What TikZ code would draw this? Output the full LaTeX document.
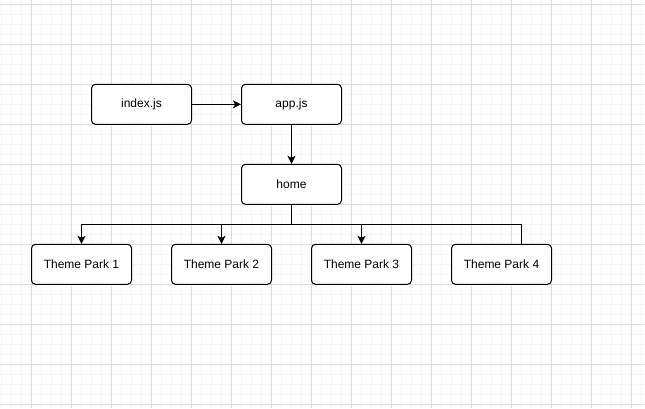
\documentclass[tikz,border=0pt]{standalone}
\usepackage{fontspec}
\setmainfont{Liberation Sans}
\usetikzlibrary{arrows.meta}
\definecolor{gridminor}{HTML}{F5F5F5}
\definecolor{gridmajor}{HTML}{DCDCDC}
\tikzset{
  box/.style={draw=black, line width=1pt, rounded corners=4pt, minimum width=100pt, minimum height=40pt, inner sep=0pt, font=\fontsize{12}{14}\selectfont, fill=white},
  conn/.style={draw=black, line width=1pt},
  arr/.style={conn, -{Stealth[length=8pt,width=8pt,inset=2pt]}},
}
\begin{document}
\begin{tikzpicture}[x=1pt,y=-1pt]
\useasboundingbox (0,0) rectangle (645,408);
\fill[white] (0,0) rectangle (645,408);
% minor grid
\foreach \i in {0,...,64} {\draw[gridminor, line width=1pt] ({1.5+10*\i},0) -- ({1.5+10*\i},408);}
\foreach \j in {0,...,40} {\draw[gridminor, line width=1pt] (0,{4.3+10*\j}) -- (645,{4.3+10*\j});}
% major grid
\foreach \i in {-1,...,16} {\draw[gridmajor, line width=1pt] ({31.5+40*\i},0) -- ({31.5+40*\i},408);}
\foreach \j in {0,...,10} {\draw[gridmajor, line width=1pt] (0,{4.3+40*\j}) -- (645,{4.3+40*\j});}

\node[box] (index) at (141.5,104.3) {index.js};
\node[box] (app) at (291.5,104.3) {app.js};
\node[box] (home) at (291.5,184.3) {home};
\node[box] (tp1) at (81.5,264.3) {Theme Park 1};
\node[box] (tp2) at (221.5,264.3) {Theme Park 2};
\node[box] (tp3) at (361.5,264.3) {Theme Park 3};
\node[box] (tp4) at (501.5,264.3) {Theme Park 4};

\draw[arr] (index) -- (app);
\draw[arr] (app) -- (home);
\draw[arr] (home.south) -- ++(0,20) -| (tp1.north);
\draw[arr] (home.south) -- ++(0,20) -| (tp2.north);
\draw[arr] (home.south) -- ++(0,20) -| (tp3.north);
\draw[conn] (home.south) -- ++(0,20) -| ([xshift=20pt]tp4.north);
\end{tikzpicture}
\end{document}
